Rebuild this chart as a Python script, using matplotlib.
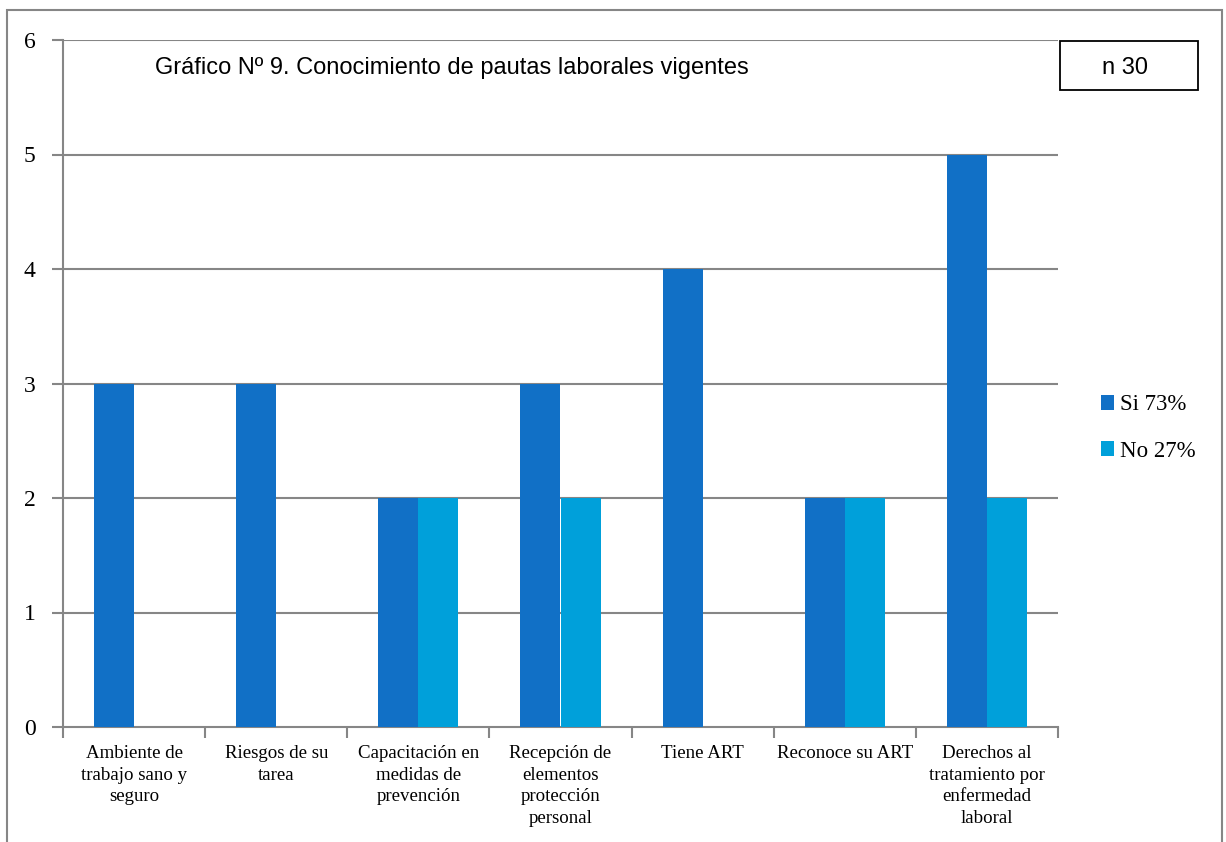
import numpy as np
import matplotlib
matplotlib.use('Agg')
import matplotlib.pyplot as plt
from matplotlib.patches import Rectangle

########## data ##########
categorias = ['Ambiente de\ntrabajo sano y\nseguro', 'Riesgos de su\ntarea',
              'Capacitación en\nmedidas de\nprevención', 'Recepción de\nelementos\nprotección\npersonal',
              'Tiene ART', 'Reconoce su ART', 'Derechos al\ntratamiento por\nenfermedad\nlaboral']
si = [3, 3, 2, 3, 4, 2, 5]
no = [0, 0, 2, 2, 0, 2, 2]
etiquetas = ['Si 73%', 'No 27%']
colores = ['#1170C6', '#00A0DA']

serif = ['Liberation Serif', 'DejaVu Serif']
sans = ['Liberation Sans', 'DejaVu Sans']

fig = plt.figure(figsize=(12.26, 8.42), dpi=100)
ax = fig.add_axes([63/1226, 1-727/842, (1058-63)/1226, (727-40)/842])

x = np.arange(len(categorias))
w = 0.2815
b1 = ax.bar(x - w/2, si, w, color=colores[0], label=etiquetas[0], zorder=3)
b2 = ax.bar(x + w/2, no, w, color=colores[1], label=etiquetas[1], zorder=3)

ax.set_xlim(-0.5, len(categorias) - 0.5)
ax.set_ylim(0, 6)
ax.set_yticks(range(0, 7))
ax.set_yticklabels([str(i) for i in range(0, 7)], family=serif, fontsize=17)
for i in range(1, 7):
    ax.axhline(i, color='#868686', lw=1.5, zorder=1)

ax.set_xticks(np.arange(-0.5, len(categorias), 1))
ax.set_xticklabels([])
ax.set_xticks(x, minor=True)
ax.set_xticklabels(categorias, minor=True, family=serif, fontsize=13.6, linespacing=1.36)
ax.tick_params(axis='x', which='minor', length=0, pad=13)
ax.tick_params(axis='x', which='major', length=8, color='#868686', width=1.5, direction='out')
ax.tick_params(axis='y', length=8, color='#868686', width=1.5, pad=16)
for lbl in ax.get_yticklabels():
    lbl.set_horizontalalignment('center')

for s in ['top', 'right']:
    ax.spines[s].set_visible(False)
for s in ['left', 'bottom']:
    ax.spines[s].set_color('#868686')
    ax.spines[s].set_linewidth(1.5)

fig.text(155/1226, 1-68/842, 'Gráfico Nº 9. Conocimiento de pautas laborales vigentes',
         family=sans, fontsize=17, va='center', ha='left')
fig.patches.append(Rectangle((1060/1226, 1-90/842), 138/1226, 49/842, transform=fig.transFigure,
                             fill=False, ec='black', lw=1.3))
fig.text(1125/1226, 1-68/842, 'n 30', family=sans, fontsize=17, ha='center', va='center')

leg = fig.legend(handles=[b1, b2], labels=etiquetas, loc='center left',
                 bbox_to_anchor=(1080/1226, 1-428/842), frameon=False,
                 prop={'family': serif, 'size': 16.5}, handlelength=0.6, handleheight=0.6,
                 handletextpad=0.25, labelspacing=1.1)

fig.patches.append(Rectangle((7/1226, -0.02), (1222-7)/1226, 1.02 - 10/842,
                             transform=fig.transFigure, fill=False, ec='#868686', lw=1.5))

fig.savefig('out.png', dpi=100)
